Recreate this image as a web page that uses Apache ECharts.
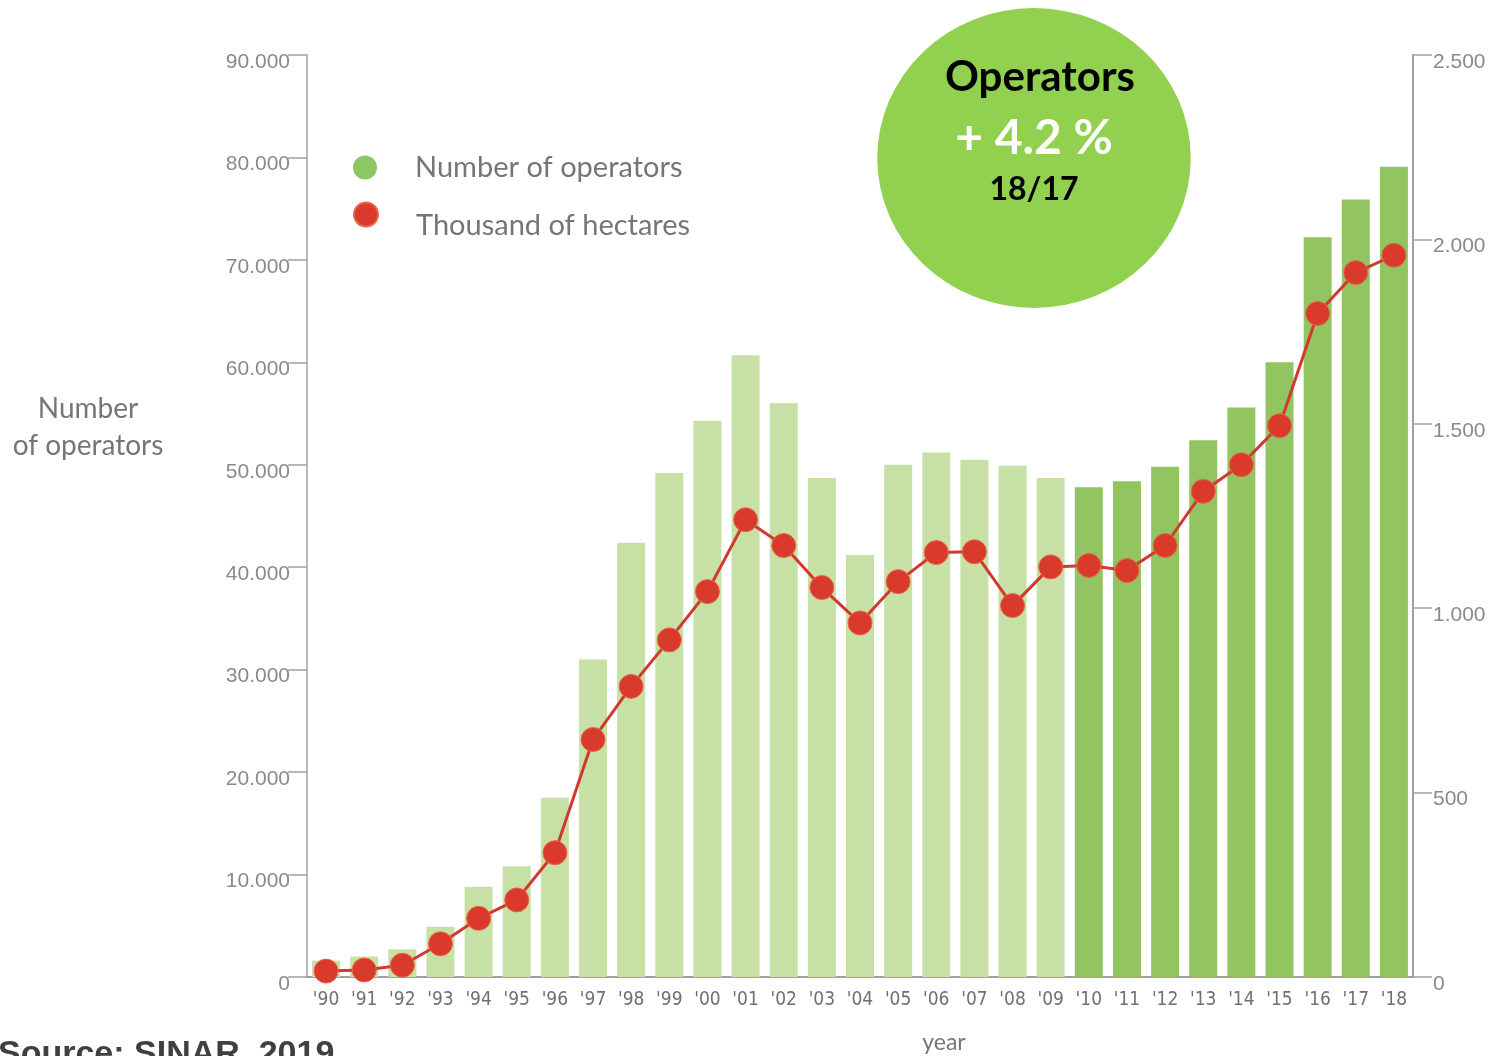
<!DOCTYPE html>
<html>
<head>
<meta charset="utf-8">
<title>Operators and hectares</title>
<script src="https://cdn.jsdelivr.net/npm/echarts@6/dist/echarts.min.js"></script>
<style>
  html, body { margin: 0; padding: 0; background: #fff; }
  #chart { width: 1492px; height: 1056px; }
</style>
</head>
<body>
<div id="chart"></div>
<script>
// years on the x axis
var years = ["'90", "'91", "'92", "'93", "'94", "'95", "'96", "'97", "'98", "'99",
             "'00", "'01", "'02", "'03", "'04", "'05", "'06", "'07", "'08", "'09",
             "'10", "'11", "'12", "'13", "'14", "'15", "'16", "'17", "'18"];
// number of operators (left axis)
var operators = [1600, 2000, 2700, 4900, 8800, 10800, 17500, 31000, 42400, 49200,
                 54300, 60700, 56000, 48700, 41200, 50000, 51200, 50500, 49900, 48700,
                 47800, 48400, 49800, 52400, 55600, 60000, 72200, 75900, 79100];
// thousand of hectares (right axis)
var hectares = [16, 19, 32, 90, 159, 209, 337, 644, 788, 914,
                1045, 1240, 1170, 1056, 960, 1072, 1151, 1153, 1007, 1112,
                1116, 1102, 1170, 1317, 1389, 1495, 1799, 1910, 1957];
var leftTicks = [0, 90000, 10000];   // min, max, interval
var rightTicks = [0, 2500, 500];
var firstDarkYear = "'10";

var myChart = echarts.init(document.getElementById('chart'));

function dots(v) {
    return String(v).replace(/\B(?=(\d{3})+(?!\d))/g, '.');
}
var darkFrom = years.indexOf(firstDarkYear);

var axisGrey = '#a0a0a0';
var labelGrey = '#8a8a8a';
var narrow = '"Liberation Sans Narrow", "DejaVu Sans Condensed", sans-serif';

var option = {
    backgroundColor: '#fff',
    animation: false,
    grid: { left: 307, right: 79, top: 55, bottom: 79 },
    legend: [
        {
            data: [{ name: 'Number of operators', itemStyle: { color: '#8cc665' } }],
            left: 348, top: 148,
            icon: 'circle', itemWidth: 24, itemHeight: 24,
            textStyle: { fontFamily: 'Lato', fontSize: 29, color: '#767676', padding: [0, 0, 0, 33] }
        },
        {
            data: ['Thousand of hectares'],
            left: 348, top: 184,
            icon: 'circle', itemWidth: 24, itemHeight: 24,
            formatter: '\n{name}',
            textStyle: { fontFamily: 'Lato', fontSize: 29, lineHeight: 22, color: '#767676', padding: [0, 0, 0, 33] }
        }
    ],
    xAxis: {
        type: 'category',
        data: years,
        axisTick: { show: false },
        axisLine: { lineStyle: { color: axisGrey, width: 2 } },
        axisLabel: { color: '#707070', fontFamily: narrow, fontSize: 19, margin: 14 }
    },
    yAxis: [
        {
            type: 'value',
            min: leftTicks[0], max: leftTicks[1], interval: leftTicks[2],
            splitLine: { show: false },
            axisLine: { show: true, lineStyle: { color: axisGrey, width: 1.5 } },
            axisTick: { show: true, length: 19, lineStyle: { color: axisGrey, width: 1.5 } },
            axisLabel: {
                color: labelGrey, fontFamily: 'Liberation Sans', fontSize: 21, margin: 17,
                verticalAlign: 'top', lineHeight: 14,
                formatter: dots
            }
        },
        {
            type: 'value',
            position: 'right',
            min: rightTicks[0], max: rightTicks[1], interval: rightTicks[2],
            splitLine: { show: false },
            axisLine: { show: true, lineStyle: { color: axisGrey, width: 2 } },
            axisTick: { show: true, length: 19, lineStyle: { color: axisGrey, width: 1.5 } },
            axisLabel: {
                color: labelGrey, fontFamily: 'Liberation Sans', fontSize: 21, margin: 20,
                verticalAlign: 'top', lineHeight: 14,
                formatter: dots
            }
        }
    ],
    series: [
        {
            name: 'Number of operators',
            type: 'bar',
            yAxisIndex: 0,
            barWidth: 28,
            data: operators,
            itemStyle: {
                color: function (p) {
                    return p.dataIndex >= darkFrom ? '#92c462' : '#c6e0a6';
                }
            }
        },
        {
            name: 'Thousand of hectares',
            type: 'line',
            yAxisIndex: 1,
            data: hectares,
            symbol: 'circle',
            symbolSize: 24,
            z: 5,
            lineStyle: { color: '#d2392e', width: 3 },
            itemStyle: { color: '#da3a2c', borderColor: '#e8664a', borderWidth: 1 }
        }
    ],
    graphic: [
        {
            type: 'circle',
            shape: { cx: 1034, cy: 158, r: 150 },
            scaleX: 1.045, originX: 1034, originY: 158,
            style: { fill: '#92d050' },
            z: 10
        },
        {
            type: 'text', x: 1040, y: 77, z: 11,
            style: { text: 'Operators', fontFamily: 'Lato', fontWeight: 'bold', fontSize: 42,
                     fill: '#000', align: 'center', verticalAlign: 'middle' }
        },
        {
            type: 'text', x: 1034, y: 139, z: 11,
            style: { text: '+ 4.2 %', fontFamily: 'Lato', fontWeight: 'bold', fontSize: 48,
                     fill: '#fff', align: 'center', verticalAlign: 'middle' }
        },
        {
            type: 'text', x: 1034, y: 190, z: 11,
            style: { text: '18/17', fontFamily: 'Lato', fontWeight: 'bold', fontSize: 32,
                     fill: '#000', align: 'center', verticalAlign: 'middle' }
        },
        {
            type: 'text', x: 88, y: 427,
            style: { text: 'Number\nof operators', fontFamily: 'Lato', fontSize: 28, lineHeight: 37,
                     fill: '#767676', align: 'center', verticalAlign: 'middle' }
        },
        {
            type: 'text', x: 944, y: 1043,
            style: { text: 'year', fontFamily: 'Lato', fontSize: 23,
                     fill: '#767676', align: 'center', verticalAlign: 'middle' }
        },
        {
            type: 'text', x: -2, y: 1038,
            style: { text: 'Source: SINAR, 2019', fontFamily: 'Liberation Sans', fontWeight: 'bold',
                     fontSize: 34, fill: '#404040', align: 'left', verticalAlign: 'top' }
        }
    ]
};

window.onresize = myChart.resize;
myChart.setOption(option);
</script>
</body>
</html>
